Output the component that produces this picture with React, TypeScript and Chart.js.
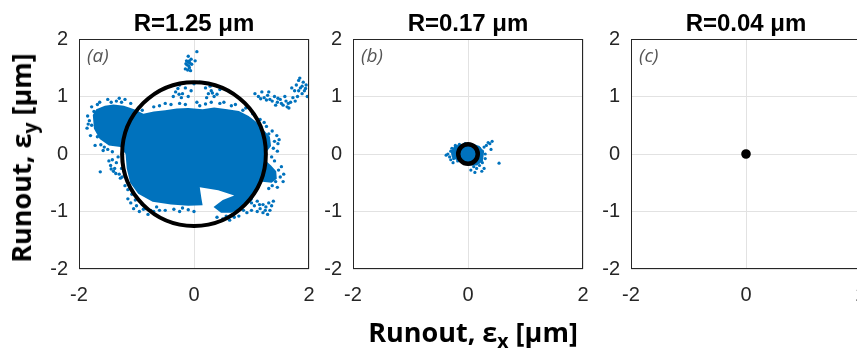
import React, { useEffect, useRef } from "react";
import { Chart, registerables } from "chart.js";

Chart.register(...registerables);

// ---------- data ----------
const panelTitles = ["R=1.25 μm", "R=0.17 μm", "R=0.04 μm"];
const panelTags = ["(a)", "(b)", "(c)"];
const fitRadii = [1.25, 0.17, 0.04];
const xTicks = [-2, 0, 2];
const yTicks = [-2, -1, 0, 1, 2];
const xAxisLabel = "Runout, ε";
const xAxisSub = "x";
const yAxisLabel = "Runout, ε";
const yAxisSub = "y";
const unitText = " [μm]";

// dense core outline of the runout cloud (a)
const cloudOutlineA: [number, number][] = [
  [-1.76, 0.68], [-1.7, 0.78], [-1.55, 0.84], [-1.4, 0.86], [-1.22, 0.84], [-1.04, 0.78],
  [-0.88, 0.7], [-0.7, 0.74], [-0.5, 0.76], [-0.3, 0.79], [-0.1, 0.8], [0.15, 0.78],
  [0.35, 0.81], [0.58, 0.78], [0.78, 0.75], [0.95, 0.66], [1.08, 0.56], [1.2, 0.43],
  [1.32, 0.3], [1.34, 0.14], [1.25, 0.02], [1.23, -0.1], [1.34, -0.2], [1.43, -0.3],
  [1.44, -0.43], [1.35, -0.5], [1.15, -0.48], [1.06, -0.64], [1.02, -0.8], [0.85, -0.93],
  [0.65, -1.02], [0.47, -1.02], [0.34, -0.92], [0.5, -0.8], [0.7, -0.72], [0.42, -0.63],
  [0.1, -0.58], [0.13, -0.78], [0.15, -0.89], [-0.1, -0.9], [-0.4, -0.88], [-0.72, -0.83],
  [-0.97, -0.69], [-1.11, -0.5], [-1.17, -0.25], [-1.19, 0.0], [-1.28, 0.12], [-1.48, 0.15],
  [-1.64, 0.26], [-1.74, 0.44],
];

// sparse runout samples (a)
const scatterA: [number, number][] = [
  [-0.12, 1.55], [-0.1, 1.6], [-0.08, 1.5], [-0.05, 1.65], [-0.15, 1.48], [-0.07, 1.58],
  [-0.1, 1.7], [0.05, 1.78], [-0.13, 1.62], [-0.06, 1.45], [-0.09, 1.53], [0.02, 1.62],
  [-0.11, 1.46], [-0.04, 1.56], [-0.14, 1.57], [-0.08, 1.62],
  [-0.32, 1.08], [-0.25, 1.2], [-0.2, 1.05], [-0.15, 1.15], [-0.1, 1.0], [-0.05, 1.1],
  [0.0, 1.22], [-0.22, 0.98], [0.2, 1.15], [0.25, 1.05], [0.3, 1.1], [0.35, 1.0],
  [0.4, 1.04], [0.28, 1.18], [-0.36, 1.0], [0.1, 1.25], [0.45, 1.12], [-0.28, 1.14],
  [0.22, 0.98], [-0.18, 1.24], [-0.26, 1.04], [0.32, 1.06],
  [1.06, 1.05], [1.12, 1.0], [1.18, 1.08], [1.22, 0.98], [1.28, 1.02], [1.32, 0.95],
  [1.36, 0.92], [1.4, 1.0], [1.45, 0.9], [1.5, 0.95], [1.55, 0.85], [1.6, 0.92],
  [1.62, 0.82], [1.68, 0.9], [1.72, 0.98], [1.75, 1.1], [1.78, 1.2], [1.82, 1.28],
  [1.85, 1.15], [1.88, 1.05], [1.92, 1.1], [1.95, 1.2], [1.97, 1.0], [1.7, 1.15],
  [1.8, 1.0], [1.58, 1.0], [1.9, 1.25], [1.65, 0.8], [1.3, 1.08], [1.42, 0.85],
  [1.84, 1.32], [1.76, 0.92], [1.52, 0.88], [1.88, 1.18], [1.16, 0.96], [1.26, 0.94],
  [1.46, 0.97], [1.64, 0.88], [1.82, 1.1], [1.94, 1.14],
  [-1.63, -0.31], [-1.45, -0.2], [-1.4, -0.3], [-1.35, -0.15], [-1.3, -0.35], [-1.26, -0.25],
  [-1.38, -0.25], [-1.42, -0.1], [-1.32, -0.05], [-1.48, -0.12], [-1.22, -0.3], [-1.28, -0.42],
  [-1.36, -0.34], [-1.24, -0.12], [-1.44, -0.26],
  [-1.1, -0.85], [-1.05, -0.95], [-1.0, -0.9], [-0.95, -1.0], [-0.9, -0.88], [-0.85, -0.95],
  [-0.8, -1.05], [-0.75, -0.98], [-1.15, -0.78], [-0.7, -1.0], [-1.08, -0.7], [-0.6, -0.98],
  [-1.02, -0.8], [-0.88, -0.96],
  [1.0, -0.85], [1.05, -0.9], [1.1, -0.82], [1.15, -0.95], [1.2, -0.88], [1.25, -0.92],
  [1.3, -0.85], [1.35, -0.9], [1.1, -1.0], [1.2, -1.02], [1.28, -1.05], [1.38, -0.82],
  [1.0, -0.98], [1.32, -0.98], [1.14, -0.88], [1.24, -0.98],
  [1.44, 0.32], [1.46, 0.18], [1.45, 0.05], [1.35, -0.05], [1.4, -0.12], [1.52, -0.22],
  [1.56, -0.35], [1.55, -0.48], [1.45, -0.58], [1.3, -0.6], [1.48, 0.25], [1.36, 0.4],
  [1.22, 0.55], [1.4, 0.22], [1.5, -0.4], [1.42, -0.48], [1.3, 0.35], [1.15, 0.6],
  [1.38, 0.1], [1.47, -0.28], [1.36, -0.55], [1.26, 0.48],
  [-1.85, 0.66], [-1.84, 0.52], [-1.78, 0.82], [-1.64, 0.9], [-1.5, 0.95], [-1.3, 0.97],
  [-1.8, 0.32], [-1.72, 0.15], [-1.58, 0.06], [-1.42, 0.04], [-1.2, 0.95], [-1.86, 0.45],
  [-1.82, 0.58], [-1.74, 0.74], [-1.62, 0.16], [-1.5, 0.08], [-1.35, 0.92], [-1.1, 0.88],
  [-1.78, 0.5], [-1.68, 0.86], [-1.44, 0.9], [-1.68, 0.3], [-1.56, 0.12], [-1.26, 0.9],
  [-0.7, 0.82], [-0.5, 0.88], [-0.25, 0.88], [0.05, 0.9], [0.3, 0.9], [0.52, 0.9],
  [0.72, 0.86], [0.9, 0.8], [1.02, 0.7], [-0.6, 0.84], [-0.4, 0.86], [-0.15, 0.86],
  [0.2, 0.87], [0.45, 0.88], [0.65, 0.84], [0.85, 0.76], [-0.9, 0.76], [0.1, 0.84],
  [-0.5, -0.98], [-0.25, -1.0], [0.0, -1.0], [0.5, -1.13], [0.62, -1.15], [0.78, -1.08],
  [0.92, -1.02], [-1.2, -0.55], [-1.25, -0.4], [-0.35, -0.96], [-0.1, -0.97], [0.4, -1.1],
  [0.7, -1.1], [-0.65, -0.92], [-1.15, -0.62], [0.56, -1.08], [0.86, -0.98], [-0.2, -0.94],
];

const cloudOutlineB: [number, number][] = [
  [-0.3, 0.04], [-0.24, 0.14], [-0.1, 0.18], [0.05, 0.19], [0.2, 0.14], [0.28, 0.04],
  [0.26, -0.12], [0.16, -0.2], [0.0, -0.2], [-0.15, -0.13], [-0.28, -0.06],
];

const scatterB: [number, number][] = [
  [-0.35, 0.0], [-0.3, 0.05], [-0.32, -0.05], [-0.28, 0.1], [-0.25, -0.08], [-0.22, 0.15],
  [-0.2, 0.02], [-0.18, -0.12], [-0.15, 0.17], [-0.12, 0.08], [-0.1, -0.1], [-0.05, 0.18],
  [0.0, 0.15], [0.05, 0.12], [0.1, 0.1], [0.15, 0.05], [0.18, -0.02], [0.2, 0.1],
  [0.22, -0.1], [0.25, 0.05], [0.28, 0.12], [0.3, 0.0], [0.32, 0.15], [0.35, 0.2],
  [0.38, 0.18], [0.25, -0.15], [0.2, -0.2], [0.15, -0.25], [0.1, -0.22], [0.28, -0.25],
  [0.3, -0.08], [0.12, -0.32], [0.05, -0.28], [0.54, -0.16], [0.4, 0.08], [0.42, 0.22],
  [-0.38, -0.02], [-0.26, -0.15], [0.0, 0.0], [0.05, -0.05], [-0.05, 0.05], [0.08, 0.03],
  [-0.08, -0.03], [0.0, -0.1], [0.0, 0.1], [0.1, -0.1], [-0.1, 0.1], [0.24, -0.3],
  [0.18, -0.14], [-0.3, -0.1],
];

const cloudOutlineC: [number, number][] = [];
const scatterC: [number, number][] = [[0.0, 0.0], [0.01, 0.01], [-0.01, 0.02], [0.02, -0.01]];

const panelOutlines = [cloudOutlineA, cloudOutlineB, cloudOutlineC];
const panelScatter = [scatterA, scatterB, scatterC];

// ---------- styling / layout ----------
const BLUE = "#0072BD";
const PLOT_LEFTS = [79, 353, 631];
const PLOT_TOP = 39;
const PLOT_SIZE = 230;
const PLOT_BOTTOM = 269;
const AXIS_W = 60;
const CANVAS_W = 315;
const CANVAS_H = 349;
const CIRCLE_WIDTHS = [4, 4.5, 5];
const POINT_RADII = [1.7, 1.6, 1.4];
const TICK_FONT = { family: "'Liberation Sans', Arial, Helvetica, sans-serif", size: 20 };
const LABEL_FONT = "'Open Sans', 'Noto Sans', sans-serif";

function Panel({ index }: { index: number }) {
  const ref = useRef<HTMLCanvasElement | null>(null);
  useEffect(() => {
    const canvas = ref.current;
    if (!canvas) return;
    const outline = panelOutlines[index];
    const radius = fitRadii[index];
    const overlay = {
      id: "overlay" + index,
      beforeDatasetsDraw(chart: any) {
        if (!outline.length) return;
        const { ctx } = chart;
        const xs = chart.scales.x;
        const ys = chart.scales.y;
        ctx.save();
        ctx.beginPath();
        outline.forEach(([vx, vy], i) => {
          const px = xs.getPixelForValue(vx);
          const py = ys.getPixelForValue(vy);
          if (i === 0) ctx.moveTo(px, py);
          else ctx.lineTo(px, py);
        });
        ctx.closePath();
        ctx.fillStyle = BLUE;
        ctx.fill();
        ctx.restore();
      },
      afterDatasetsDraw(chart: any) {
        const { ctx, chartArea } = chart;
        const xs = chart.scales.x;
        const ys = chart.scales.y;
        const cx = xs.getPixelForValue(0);
        const cy = ys.getPixelForValue(0);
        const r = xs.getPixelForValue(radius) - cx;
        ctx.save();
        ctx.beginPath();
        ctx.arc(cx, cy, r, 0, Math.PI * 2);
        ctx.lineWidth = CIRCLE_WIDTHS[index];
        ctx.strokeStyle = "#000";
        ctx.stroke();
        ctx.lineWidth = 1;
        ctx.strokeStyle = "#262626";
        ctx.strokeRect(
          chartArea.left + 0.5,
          chartArea.top + 0.5,
          chartArea.right - chartArea.left - 1,
          chartArea.bottom - chartArea.top - 1
        );
        ctx.restore();
      },
    };
    const scaleCommon = (axis: "x" | "y") => ({
      type: "linear" as const,
      min: -2,
      max: 2,
      afterBuildTicks: (s: any) => {
        s.ticks = (axis === "x" ? xTicks : yTicks).map((v) => ({ value: v }));
      },
      ticks: {
        font: TICK_FONT,
        color: "#262626",
        padding: axis === "x" ? 14 : 11,
        maxRotation: 0,
        autoSkip: false,
      },
      grid: { color: "#e2e2e2", lineWidth: 1, drawTicks: false },
      border: { display: false },
      afterFit: (s: any) => {
        if (axis === "x") s.height = CANVAS_H - PLOT_BOTTOM;
        else s.width = AXIS_W;
      },
    });
    const chart = new Chart(canvas, {
      type: "scatter",
      data: {
        datasets: [
          {
            data: panelScatter[index].map(([x, y]) => ({ x, y })),
            backgroundColor: BLUE,
            borderWidth: 0,
            pointRadius: POINT_RADII[index],
            pointHoverRadius: POINT_RADII[index],
          },
        ],
      },
      options: {
        responsive: false,
        animation: false,
        events: [],
        layout: { padding: { top: PLOT_TOP, right: CANVAS_W - AXIS_W - PLOT_SIZE, left: 0, bottom: 0 } },
        plugins: {
          legend: { display: false },
          tooltip: { enabled: false },
          title: { display: false },
        },
        scales: { x: scaleCommon("x"), y: scaleCommon("y") } as any,
      },
      plugins: [overlay],
    });
    return () => chart.destroy();
  }, [index]);

  const left = PLOT_LEFTS[index];
  return (
    <>
      <canvas
        ref={ref}
        width={CANVAS_W}
        height={CANVAS_H}
        style={{ position: "absolute", left: left - AXIS_W, top: 0, width: CANVAS_W, height: CANVAS_H }}
      />
      <div
        style={{
          position: "absolute",
          left,
          top: 11,
          width: PLOT_SIZE,
          textAlign: "center",
          font: "bold 24px 'Liberation Sans', Arial, sans-serif",
          lineHeight: "24px",
          color: "#000",
          whiteSpace: "nowrap",
        }}
      >
        {panelTitles[index]}
      </div>
      <div
        style={{
          position: "absolute",
          left: left + 8,
          top: 46,
          font: `italic 19px ${LABEL_FONT}`,
          lineHeight: "19px",
          color: "#555",
          whiteSpace: "nowrap",
        }}
      >
        {panelTags[index]}
      </div>
    </>
  );
}

const subStyle: React.CSSProperties = { fontSize: "0.72em", position: "relative", top: "0.3em" };

export default function App() {
  return (
    <div
      style={{
        position: "fixed",
        left: 0,
        top: 0,
        width: 857,
        height: 349,
        overflow: "hidden",
        background: "#fff",
      }}
    >
      {[0, 1, 2].map((i) => (
        <Panel key={i} index={i} />
      ))}
      <div
        style={{
          position: "absolute",
          left: 22,
          top: 158,
          transform: "translate(-50%, -50%) rotate(-90deg)",
          font: `bold 27px ${LABEL_FONT}`,
          lineHeight: "27px",
          color: "#000",
          whiteSpace: "nowrap",
        }}
      >
        {yAxisLabel}
        <span style={subStyle}>{yAxisSub}</span>
        {unitText}
      </div>
      <div
        style={{
          position: "absolute",
          left: 473,
          top: 318,
          transform: "translateX(-50%)",
          font: `bold 27px ${LABEL_FONT}`,
          lineHeight: "27px",
          color: "#000",
          whiteSpace: "nowrap",
        }}
      >
        {xAxisLabel}
        <span style={subStyle}>{xAxisSub}</span>
        {unitText}
      </div>
    </div>
  );
}
